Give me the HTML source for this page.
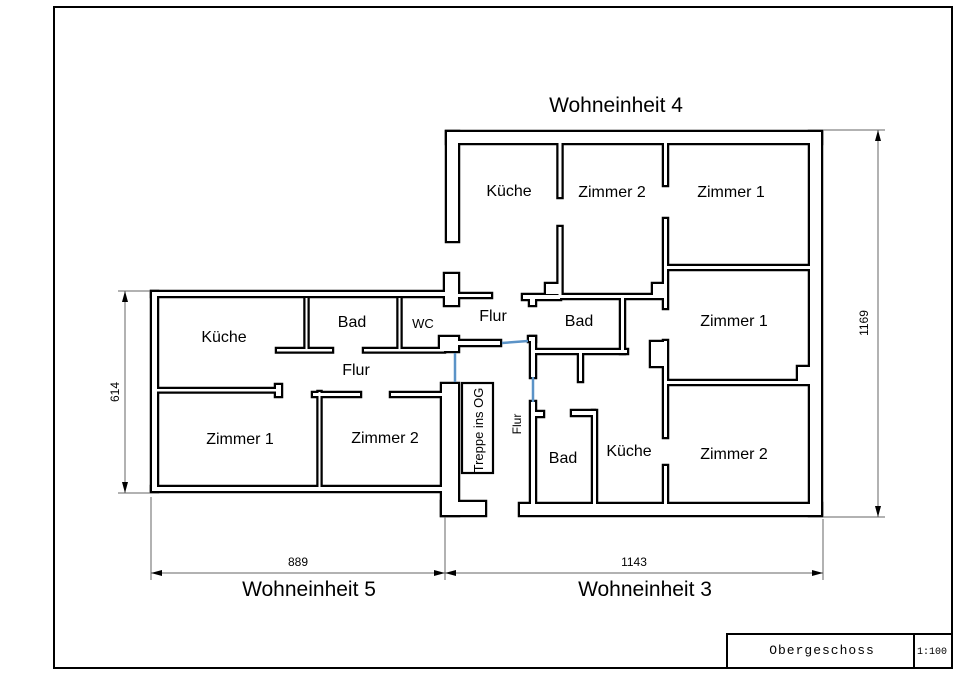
<!DOCTYPE html>
<html><head><meta charset="utf-8"><style>
html,body{margin:0;padding:0;background:#fff;}
svg{display:block;font-family:"Liberation Sans",sans-serif;}
</style></head><body>
<svg width="960" height="674" viewBox="0 0 960 674" xmlns="http://www.w3.org/2000/svg">
<defs>
<g id="w">
<rect x="152" y="292" width="293" height="4"/>
<rect x="152" y="292" width="5" height="199"/>
<rect x="152" y="487" width="293" height="4"/>
<rect x="305.5" y="298" width="2" height="52"/>
<rect x="277" y="349" width="55" height="2.5"/>
<rect x="398.5" y="298" width="2" height="52"/>
<rect x="364" y="349" width="80" height="2.5"/>
<rect x="157" y="389" width="122" height="2.5"/>
<rect x="276" y="385" width="5" height="11"/>
<rect x="318.5" y="392" width="2" height="95"/>
<rect x="313" y="393" width="47" height="3"/>
<rect x="391" y="393" width="51" height="3"/>
<rect x="442" y="384" width="16" height="131"/>
<rect x="442" y="502" width="43" height="13"/>
<rect x="445" y="274" width="13" height="31"/>
<rect x="458" y="294" width="33" height="3"/>
<rect x="440" y="337" width="18" height="14"/>
<rect x="458" y="341" width="42" height="4"/>
<rect x="447" y="132" width="374" height="11"/>
<rect x="447" y="132" width="11" height="109"/>
<rect x="810" y="132" width="11" height="383"/>
<rect x="520" y="504" width="301" height="11"/>
<rect x="558.5" y="143" width="3" height="54"/>
<rect x="558.5" y="227" width="3" height="68"/>
<rect x="546" y="284" width="15" height="10"/>
<rect x="523" y="295" width="37" height="4"/>
<rect x="530" y="299" width="5" height="6"/>
<rect x="559" y="295" width="107" height="3"/>
<rect x="664" y="143" width="3" height="42"/>
<rect x="664" y="219" width="3" height="89"/>
<rect x="653" y="284" width="13" height="12"/>
<rect x="667" y="266" width="143" height="3"/>
<rect x="667" y="381" width="143" height="3"/>
<rect x="664" y="341" width="3" height="96"/>
<rect x="651" y="342" width="14" height="24"/>
<rect x="664" y="466" width="3" height="38"/>
<rect x="798" y="367" width="12" height="14"/>
<rect x="535" y="350" width="92" height="3"/>
<rect x="621" y="298" width="3" height="55"/>
<rect x="579" y="353" width="3" height="28"/>
<rect x="531" y="337" width="4" height="40"/>
<rect x="529" y="337" width="6" height="4"/>
<rect x="531" y="402" width="4" height="102"/>
<rect x="535" y="412" width="8" height="4"/>
<rect x="593" y="411" width="3" height="93"/>
<rect x="572" y="411" width="22" height="4"/>
</g>
</defs>
<rect x="54" y="7" width="898" height="661" fill="none" stroke="#000" stroke-width="2"/>
<rect x="727" y="634" width="225" height="34" fill="none" stroke="#000" stroke-width="2"/>
<line x1="914" y1="634" x2="914" y2="668" stroke="#000" stroke-width="2"/>
<text x="822" y="654" font-size="13" text-anchor="middle" font-family="Liberation Mono,monospace" letter-spacing="1">Obergeschoss</text>
<text x="932" y="654" font-size="10" text-anchor="middle" font-family="Liberation Mono,monospace">1:100</text>
<use href="#w" fill="#000" stroke="#000" stroke-width="4.5"/>
<use href="#w" fill="#fff"/>
<rect x="462" y="383" width="31" height="90" fill="none" stroke="#000" stroke-width="2.2"/>
<g stroke="#5b93c7" stroke-width="2.5" fill="none">
<line x1="455" y1="353" x2="455" y2="382"/>
<polyline points="502,343 528,341"/>
<line x1="533" y1="377" x2="533" y2="402"/>
</g>
<g stroke="#666" stroke-width="1" fill="none">
<line x1="118" y1="291" x2="150" y2="291"/><line x1="118" y1="493" x2="150" y2="493"/>
<line x1="125" y1="291" x2="125" y2="493"/>
<line x1="823" y1="130" x2="885" y2="130"/><line x1="823" y1="517" x2="885" y2="517"/>
<line x1="878" y1="130" x2="878" y2="517"/>
<line x1="151" y1="497" x2="151" y2="580"/><line x1="445" y1="517" x2="445" y2="580"/><line x1="823" y1="519" x2="823" y2="580"/>
<line x1="151" y1="573" x2="823" y2="573"/>
</g>
<g fill="#000">
<polygon points="125,291 122,302 128,302"/><polygon points="125,493 122,482 128,482"/>
<polygon points="878,130 875,141 881,141"/><polygon points="878,517 875,506 881,506"/>
<polygon points="151,573 162,570 162,576"/><polygon points="445,573 434,570 434,576"/>
<polygon points="445,573 456,570 456,576"/><polygon points="823,573 812,570 812,576"/>
</g>
<g font-size="12" text-anchor="middle" fill="#000" font-family="Liberation Sans Narrow,Liberation Sans,sans-serif">
<text x="298" y="566">889</text>
<text x="634" y="566">1143</text>
<text transform="translate(119,392) rotate(-90)">614</text>
<text transform="translate(868,323) rotate(-90)">1169</text>
</g>
<g font-size="21" text-anchor="middle" fill="#000">
<text x="616" y="112">Wohneinheit 4</text>
<text x="309" y="596">Wohneinheit 5</text>
<text x="645" y="596">Wohneinheit 3</text>
</g>
<g font-size="16" text-anchor="middle" fill="#000">
<text x="224" y="342">Küche</text>
<text x="352" y="327">Bad</text>
<text x="423" y="328" font-size="13">WC</text>
<text x="356" y="375">Flur</text>
<text x="240" y="444">Zimmer 1</text>
<text x="385" y="443">Zimmer 2</text>
<text x="493" y="321">Flur</text>
<text x="509" y="196">Küche</text>
<text x="612" y="197">Zimmer 2</text>
<text x="731" y="197">Zimmer 1</text>
<text x="579" y="326">Bad</text>
<text x="734" y="326">Zimmer 1</text>
<text x="563" y="463">Bad</text>
<text x="629" y="456">Küche</text>
<text x="734" y="459">Zimmer 2</text>
<text transform="translate(483,430) rotate(-90)" font-size="13">Treppe ins OG</text>
<text transform="translate(521,424) rotate(-90)" font-size="12">Flur</text>
</g>
</svg>
</body></html>
